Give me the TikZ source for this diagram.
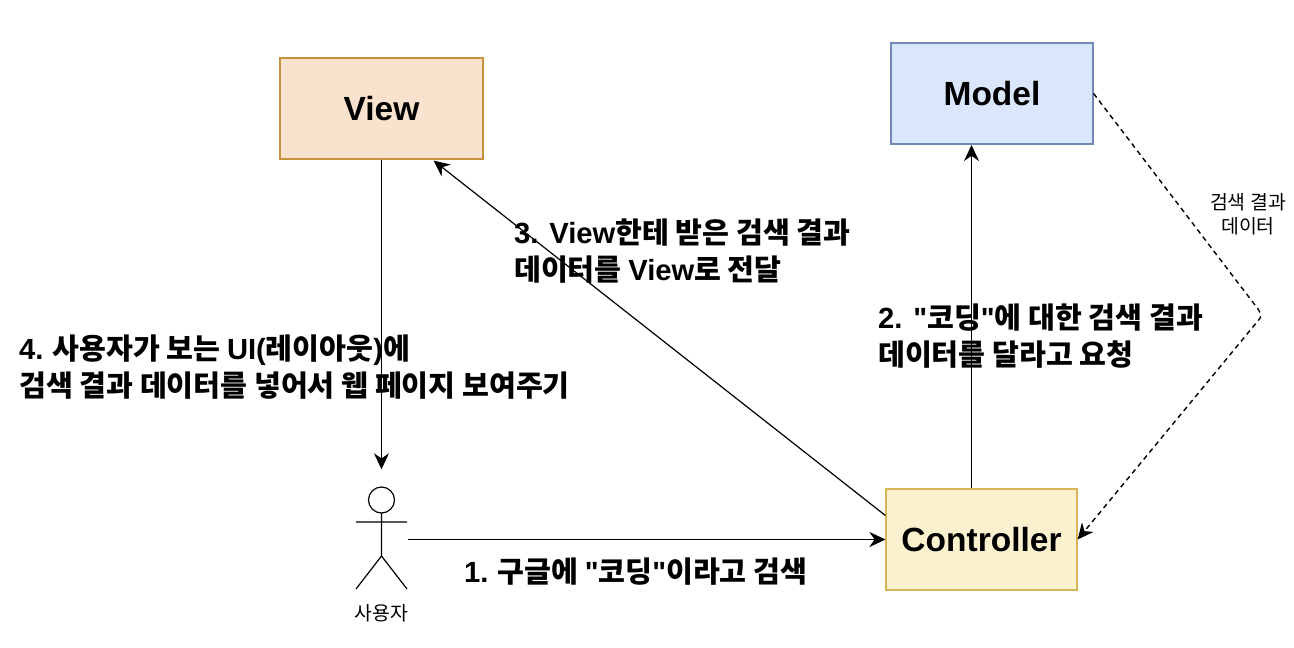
\documentclass[tikz,border=0pt]{standalone}
\usepackage{fontspec}
\setmainfont{Noto Sans CJK KR}
\newfontfamily\lat{Liberation Sans}
\usetikzlibrary{arrows.meta,calc}
\definecolor{vfill}{HTML}{FAE3CE}
\definecolor{vline}{HTML}{C9923F}
\definecolor{mfill}{HTML}{DAE6FB}
\definecolor{mline}{HTML}{7088B8}
\definecolor{cfill}{HTML}{FCF1CE}
\definecolor{cline}{HTML}{D6B656}
\tikzset{
 x=1pt,y=-1pt,
 box/.style={draw,line width=1.2pt,minimum width=#1,inner sep=0pt,font=\fontsize{33.5}{38}\selectfont\bfseries\lat},
 link/.style={draw=black,line width=1.2pt,-{Stealth[length=16pt,width=15pt]}},
 lab/.style={font=\fontsize{29.2}{37}\selectfont\bfseries,align=left,anchor=west,inner sep=0pt},
 small/.style={font=\fontsize{19.4}{24}\selectfont,align=center,inner sep=0pt},
 stick/.style={draw=black,line width=1.2pt}
}
\begin{document}
\begin{tikzpicture}
\useasboundingbox (0,0) rectangle (1294,648);
\node[box=203pt,minimum height=101pt,fill=vfill,draw=vline] (view) at (381.5,108.5) {View};
\node[box=202pt,minimum height=101pt,fill=mfill,draw=mline] (model) at (992,93.5) {Model};
\node[box=191pt,minimum height=101pt,fill=cfill,draw=cline] (ctrl) at (981.5,539.5) {Controller};
\node[minimum width=51pt,minimum height=102pt,inner sep=0pt] (actor) at (381.5,539.5) {};
\coordinate (bend) at (1262,316);
% actor figure
\draw[stick] (381.5,500) circle (13);
\draw[stick] (381.5,513) -- (381.5,556) (356,522) -- (407,522)
  (356,589) -- (381.5,556) -- (407,589);
\node[small] (actorlab) at (381.5,613) {사용자};
% connectors
\draw[link] (view.south) -- ($(actor.north)+(0,-19)$);
\draw[link] ($(actor.east)+(1,0)$) -- (ctrl.west |- actor.east);
\draw[link] (ctrl.north -| 971.5,489) -- (971.5,145);
\draw[link] ($(ctrl.west)+(0,-24)$) -- ($(view.south east)+(-50,1)$);
\draw[draw=black,line width=1.4pt,dash pattern=on 5pt off 4pt,-{Stealth[length=16pt,width=15pt]}]
  (model.east) -- (1258,309) .. controls (bend) .. (1257,322) -- (ctrl.east);
% labels
\node[lab] (l1) at (464,572) {{\lat 1.} 구글에 {\lat "}코딩{\lat "}이라고 검색};
\node[lab] (l2) at (878,336) {{\lat 2. "}코딩{\lat "}에 대한 검색 결과\\데이터를 달라고 요청};
\node[lab] (l3) at (514,251) {{\lat 3. View}한테 받은 검색 결과\\데이터를 {\lat View}로 전달};
\node[lab] (l4) at (19,367) {{\lat 4.} 사용자가 보는 {\lat UI(}레이아웃{\lat )}에\\검색 결과 데이터를 넣어서 웹 페이지 보여주기};
\node[small] (l5) at (1248,214) {검색 결과\\데이터};
\end{tikzpicture}
\end{document}
